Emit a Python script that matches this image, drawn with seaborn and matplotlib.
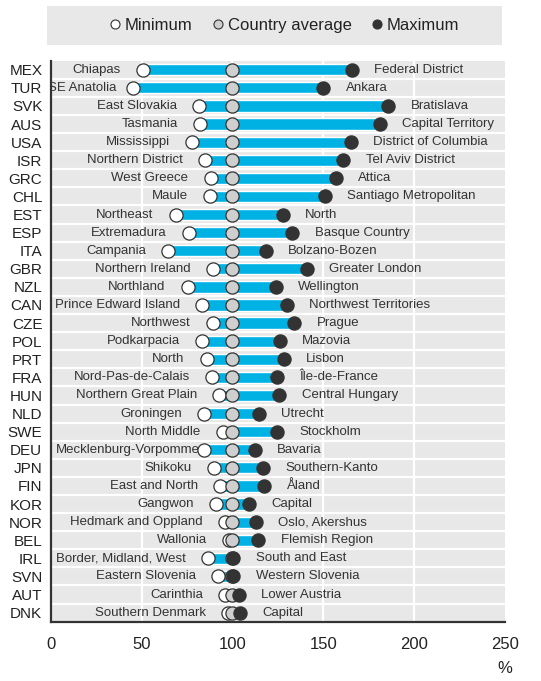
import numpy as np
import pandas as pd
import seaborn as sns
import matplotlib.pyplot as plt
from matplotlib.patches import Rectangle
from matplotlib.lines import Line2D

countries = ['MEX', 'TUR', 'SVK', 'AUS', 'USA', 'ISR', 'GRC', 'CHL', 'EST', 'ESP', 'ITA',
             'GBR', 'NZL', 'CAN', 'CZE', 'POL', 'PRT', 'FRA', 'HUN', 'NLD', 'SWE', 'DEU',
             'JPN', 'FIN', 'KOR', 'NOR', 'BEL', 'IRL', 'SVN', 'AUT', 'DNK']
min_regions = ['Chiapas', 'SE Anatolia', 'East Slovakia', 'Tasmania', 'Mississippi',
               'Northern District', 'West Greece', 'Maule', 'Northeast', 'Extremadura',
               'Campania', 'Northern Ireland', 'Northland', 'Prince Edward Island', 'Northwest',
               'Podkarpacia', 'North', 'Nord-Pas-de-Calais', 'Northern Great Plain', 'Groningen',
               'North Middle', 'Mecklenburg-Vorpommern', 'Shikoku', 'East and North', 'Gangwon',
               'Hedmark and Oppland', 'Wallonia', 'Border, Midland, West', 'Eastern Slovenia',
               'Carinthia', 'Southern Denmark']
max_regions = ['Federal District', 'Ankara', 'Bratislava', 'Capital Territory',
               'District of Columbia', 'Tel Aviv District', 'Attica', 'Santiago Metropolitan',
               'North', 'Basque Country', 'Bolzano-Bozen', 'Greater London', 'Wellington',
               'Northwest Territories', 'Prague', 'Mazovia', 'Lisbon', 'Île-de-France',
               'Central Hungary', 'Utrecht', 'Stockholm', 'Bavaria', 'Southern-Kanto', 'Åland',
               'Capital', 'Oslo, Akershus', 'Flemish Region', 'South and East',
               'Western Slovenia', 'Lower Austria', 'Capital']
min_vals = [50.6, 45.1, 81.6, 82.2, 77.9, 84.9, 88.0, 87.7, 68.8, 76.1, 64.7, 89.5, 75.4, 83.4,
            89.5, 83.4, 85.9, 88.9, 92.6, 84.5, 94.7, 84.4, 89.9, 93.2, 90.8, 95.9, 98.3, 86.7,
            92.2, 95.9, 97.7]
avg_vals = [100] * len(countries)
max_vals = [165.6, 150.0, 185.8, 181.2, 165.1, 161.0, 156.8, 151.0, 127.7, 133.0, 118.3, 140.9,
            123.8, 129.9, 134.1, 126.2, 128.4, 124.4, 125.8, 114.6, 124.4, 112.4, 116.7, 117.6,
            109.3, 112.8, 114.3, 100.5, 100.5, 103.6, 104.2]

df = pd.DataFrame({'country': countries, 'min': min_vals, 'avg': avg_vals, 'max': max_vals,
                   'min_reg': min_regions, 'max_reg': max_regions})
df['pos'] = np.arange(len(df))

sns.set_style('white')
plt.rcParams['font.family'] = ['Liberation Sans', 'DejaVu Sans']

BLUE = '#00b1e4'
GREY_BG = '#e8e8e9'
DARK = '#333333'
REG_FS = 9.5

fig = plt.figure(figsize=(5.41, 6.81), dpi=100)
ax = fig.add_axes([0.0937, 0.0871, 0.8398, 0.8238])
ax.set_facecolor(GREY_BG)

# white separators and grid
for b in np.arange(0.5, len(df) - 1, 1):
    ax.axhline(b, color='white', lw=1.6, zorder=1)
for g in [50, 100, 150, 200]:
    ax.axvline(g, color='white', lw=1.6, zorder=1)

ax.barh(df['pos'], df['max'] - df['min'], left=df['min'], height=0.62, color=BLUE, zorder=2)

sns.scatterplot(data=df, x='min', y='pos', ax=ax, s=90, color='white', edgecolor=DARK,
                linewidth=0.9, zorder=4, legend=False)
sns.scatterplot(data=df, x='avg', y='pos', ax=ax, s=90, color='#cfcfcf', edgecolor=DARK,
                linewidth=0.9, zorder=5, legend=False)
sns.scatterplot(data=df, x='max', y='pos', ax=ax, s=90, color=DARK, edgecolor=DARK,
                linewidth=0.9, zorder=6, legend=False)

# region labels
for _, r in df.iterrows():
    if r['country'] == 'DEU':
        ax.annotate(r['min_reg'], (0, r['pos']), xytext=(3.5, 0), textcoords='offset points',
                    ha='left', va='center', fontsize=REG_FS, color=DARK, zorder=3,
                    annotation_clip=False, clip_on=True)
    else:
        off = -12 if r['country'] == 'TUR' else -16
        ax.annotate(r['min_reg'], (r['min'], r['pos']), xytext=(off, 0),
                    textcoords='offset points', ha='right', va='center', fontsize=REG_FS,
                    color=DARK, zorder=3, clip_on=True)
    ax.annotate(r['max_reg'], (r['max'], r['pos']), xytext=(16, 0), textcoords='offset points',
                ha='left', va='center', fontsize=REG_FS, color=DARK, zorder=3)

ax.set_xlim(0, 250)
ax.set_ylim(len(df) - 0.5, -0.5)
ax.set_xticks([0, 50, 100, 150, 200, 250])
ax.set_yticks(df['pos'])
ax.set_yticklabels(df['country'])
ax.set_yticks(np.arange(-0.5, len(df), 1), minor=True)
ax.set_xlabel('')
ax.set_ylabel('')
for s in ['top', 'right']:
    ax.spines[s].set_visible(False)
for s in ['left', 'bottom']:
    ax.spines[s].set_color(DARK)
    ax.spines[s].set_linewidth(1.6)
ax.tick_params(axis='y', which='major', length=0, pad=6, labelsize=11, labelcolor='#222222')
ax.tick_params(axis='y', which='minor', direction='in', length=3.5, width=1.2, color=DARK)
ax.tick_params(axis='x', direction='in', length=3.5, width=1.2, color=DARK, pad=11,
               labelsize=12, labelcolor='#222222')
fig.text(0.9335, 0.019, '%', ha='center', va='center', fontsize=12, color='#222222')

# legend box
fig.patches.append(Rectangle((0.0869, 0.9339), 0.841, 0.0573, transform=fig.transFigure,
                             facecolor=GREY_BG, edgecolor='none', zorder=0))
handles = [
    Line2D([], [], marker='o', ls='', markersize=6.5, markerfacecolor='white',
           markeredgecolor=DARK, markeredgewidth=0.8),
    Line2D([], [], marker='o', ls='', markersize=6.5, markerfacecolor='#cfcfcf',
           markeredgecolor=DARK, markeredgewidth=0.8),
    Line2D([], [], marker='o', ls='', markersize=6.5, markerfacecolor=DARK,
           markeredgecolor=DARK, markeredgewidth=0.8),
]
fig.legend(handles, ['Minimum', 'Country average', 'Maximum'], loc='center',
           bbox_to_anchor=(0.523, 0.9626), ncol=3, frameon=False, fontsize=12,
           handletextpad=0.1, columnspacing=1.0, handlelength=1.0, labelcolor='#222222')

fig.savefig('out.png', dpi=100)
